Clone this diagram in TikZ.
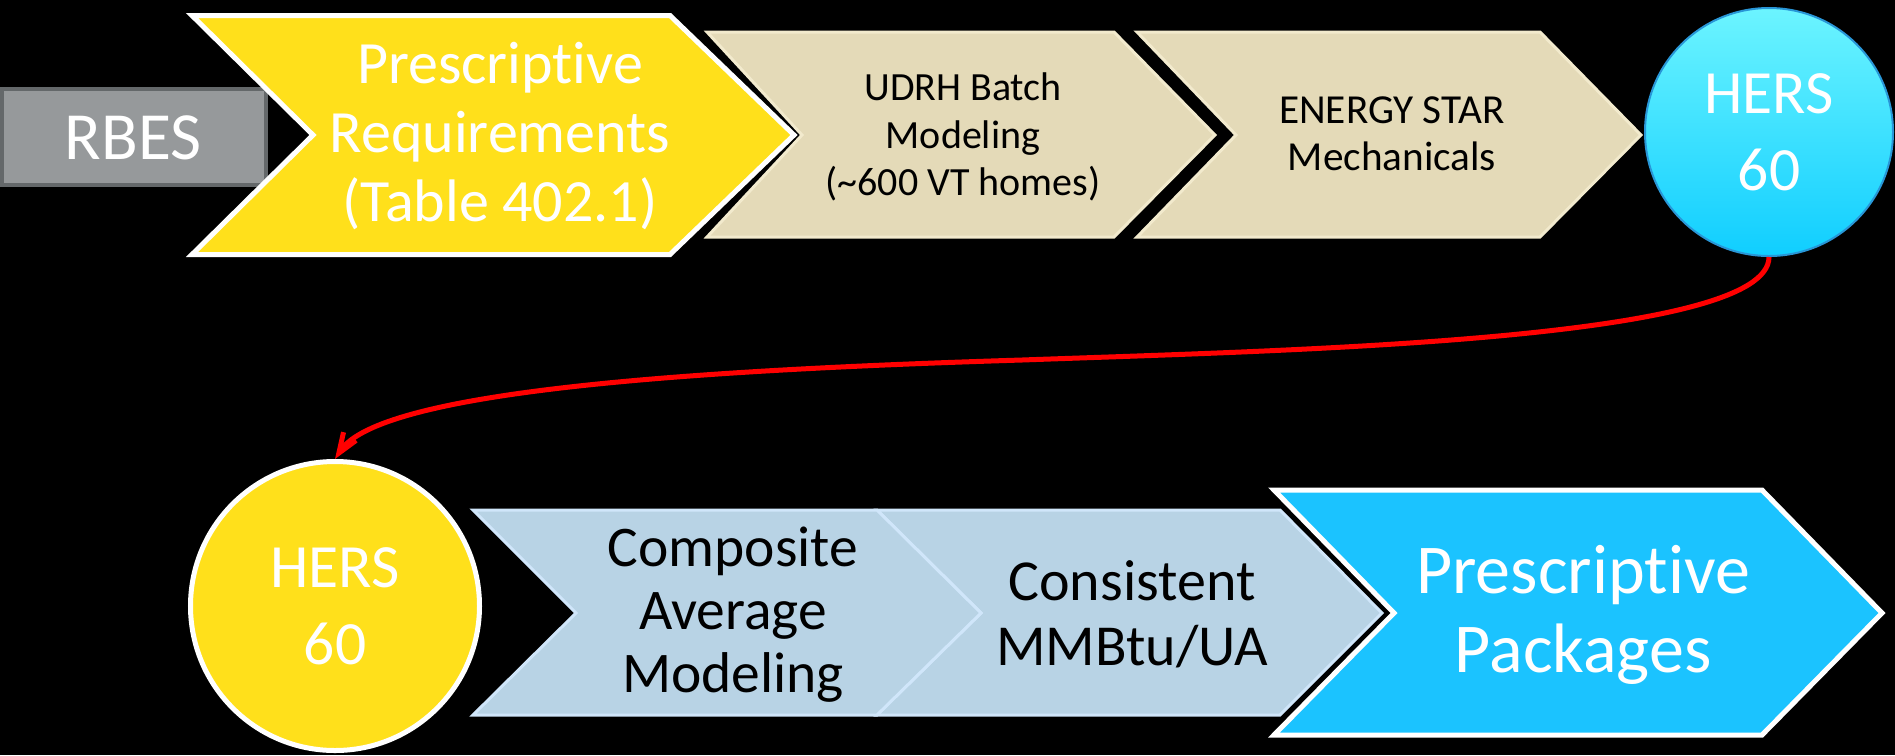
\documentclass[tikz,border=0pt]{standalone}
\usepackage{fontspec}
\setmainfont{Carlito}[Ligatures=NoCommon]
\usetikzlibrary{arrows.meta}
\definecolor{ylw}{RGB}{255,224,27}
\definecolor{gryfill}{RGB}{150,153,155}
\definecolor{grydraw}{RGB}{100,104,106}
\definecolor{tanfill}{RGB}{228,218,184}
\definecolor{tandraw}{RGB}{242,234,205}
\definecolor{lbfill}{RGB}{184,211,229}
\definecolor{lbdraw}{RGB}{208,230,250}
\definecolor{cyn}{RGB}{27,195,255}
\definecolor{cyntop}{RGB}{108,244,255}
\definecolor{cynbot}{RGB}{16,206,255}
\definecolor{cyndraw}{RGB}{40,150,215}
\begin{document}
\begin{tikzpicture}[x=0.4pt,y=-0.4pt,
  lbl/.style={align=center, inner sep=0pt},
  ychev/.style={fill=ylw, draw=white, line width=2pt, line join=miter},
  tchev/.style={fill=tanfill, draw=tandraw, line width=1.2pt, line join=miter},
  bchev/.style={fill=lbfill, draw=lbdraw, line width=1.2pt, line join=miter},
  cchev/.style={fill=cyn, draw=white, line width=2pt, line join=miter},
]
\fill[black] (0,0) rectangle (1895,755);
\useasboundingbox (0,0) rectangle (1895,755);

% RBES
\draw[fill=gryfill, draw=grydraw, line width=1.6pt] (2,89) rectangle (266,185);
\node[lbl, text=white, font=\fontsize{27}{30}\selectfont] (rbes) at (133,138) {RBES};

% Prescriptive Requirements chevron
\draw[ychev] (192,15.5) -- (670,15.5) -- (794,135) -- (670,254.5) -- (192,254.5) -- (313,135) -- cycle;
\node[lbl, text=white, font=\fontsize{24}{27.6}\selectfont] (presreq) at (500,136) {Prescriptive\\Requirements\\(Table 402.1)};

% tan chevrons
\draw[tchev] (707,32) -- (1114,32) -- (1215,135) -- (1114,237) -- (707,237) -- (802,135) -- cycle;
\node[lbl, text=black, font=\fontsize{16}{19}\selectfont] (udrh) at (963,137) {UDRH Batch\\Modeling\\(\textasciitilde600 VT homes)};
\draw[tchev] (1137,32) -- (1540,32) -- (1641,135) -- (1540,237) -- (1137,237) -- (1236,135) -- cycle;
\node[lbl, text=black, font=\fontsize{16.5}{19}\selectfont] (estar) at (1392,134) {ENERGY STAR\\Mechanicals};

% top HERS circle
\node[circle, minimum size=99.2pt, inner sep=0pt, top color=cyntop, bottom color=cynbot, draw=cyndraw, line width=0.8pt, text=white, align=center, font=\fontsize{24.6}{30.8}\selectfont] (hers1) at (1769,132) {HERS\\60};

% bottom HERS circle
\node[circle, minimum size=115.6pt, inner sep=0pt, fill=ylw, draw=white, line width=2pt, text=white, align=center, font=\fontsize{24.6}{30.8}\selectfont] (hers2) at (335,606) {HERS\\60};

% light blue chevrons
\draw[bchev] (877,510) -- (1280,510) -- (1382,613) -- (1280,715) -- (877,715) -- (981,613) -- cycle;
\draw[bchev] (473,510) -- (877,510) -- (981,613) -- (877,715) -- (473,715) -- (576,613) -- cycle;
\node[lbl, text=black, font=\fontsize{23}{25.2}\selectfont] (comp) at (733,615) {Composite\\Average\\Modeling};
\node[lbl, text=black, font=\fontsize{23.2}{26}\selectfont] (cons) at (1132,614) {Consistent\\MMBtu/UA};

% cyan chevron
\draw[cchev] (1274,490) -- (1762,490) -- (1882,613) -- (1762,735) -- (1274,735) -- (1394,613) -- cycle;
\node[lbl, text=white, font=\fontsize{28}{31.6}\selectfont] (prespack) at (1583,615) {Prescriptive\\Packages};

% red connector
\coordinate (mid) at (1022,360);
\draw[red, line width=2pt, -{Straight Barb[length=8pt,width=6pt]}]
  (hers1.south) .. controls +(0,83) and (1300,350) .. (mid)
  .. controls (700,370) and (380,390) .. (hers2.north);
\end{tikzpicture}
\end{document}
